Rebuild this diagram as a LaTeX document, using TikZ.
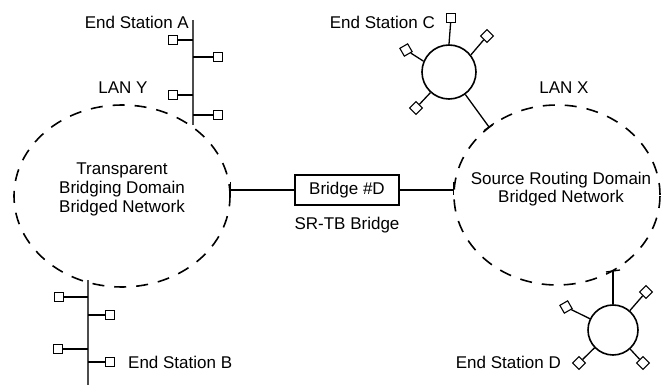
\documentclass[tikz,border=0pt]{standalone}
\usepackage{fontspec}
\setmainfont{Liberation Sans}
\usetikzlibrary{shapes.geometric,calc}
\begin{document}
\begin{tikzpicture}[x=1pt,y=-1pt,
  txt/.style={font=\fontsize{17}{19}\selectfont, inner sep=0pt, align=center},
  lanx/.style={ellipse, draw, line width=1.6pt, dash pattern=on 12pt off 10pt, inner sep=0pt},
  sta/.style={draw, rectangle, minimum size=9pt, inner sep=0pt, line width=1.1pt, fill=white},
  ring/.style={circle, draw, line width=1.6pt, inner sep=0pt},
  bus/.style={line width=2.4pt, black!70},
  wire/.style={line width=1.3pt},
  endtick/.style={line width=1.3pt}]
\useasboundingbox (0,0) rectangle (662,385);

% LAN ellipses
\node[lanx, minimum width=216pt, minimum height=182pt] (lanY) at (122,196) {};
\node[lanx, minimum width=206pt, minimum height=180pt] (lanX) at (557,195) {};
\node[txt] (lanYtxt) at (122,189) {Transparent\\Bridging Domain\\Bridged Network};
\node[txt, font=\fontsize{17}{18}\selectfont] (lanXtxt) at (561,189) {Source Routing Domain\\Bridged Network};
\node[txt] (lanYlbl) at (123,88) {LAN Y};
\node[txt] (lanXlbl) at (564,88) {LAN X};

% Bridge
\node[txt, draw, line width=1.3pt, minimum width=104pt, minimum height=30pt] (br) at (347,190) {Bridge \#D};
\node[txt] (brlbl) at (347,225) {SR-TB Bridge};
\coordinate (brL) at (br.west -| lanY.east);
\coordinate (brR) at (br.east -| lanX.west);
\draw[wire] (brL) -- (br.west);
\draw[wire] (br.east) -- (brR);
\draw[endtick] ($(brL)+(0,-8)$) -- ($(brL)+(0,5)$);
\draw[endtick] ($(brR)+(0,-8)$) -- ($(brR)+(0,5)$);

% Bus A (End Station A)
\coordinate (aTop) at (193,20);
\coordinate (aBot) at (193,125);
\draw[bus] (aTop) -- (aBot);
\node[sta] (sA1) at (173,40) {};
\node[sta] (sA2) at (218,57) {};
\node[sta] (sA3) at (173,95) {};
\node[sta] (sA4) at (218,115) {};
\foreach \s in {sA1,sA2,sA3,sA4} \draw[wire] (\s) -- (\s -| aTop);
\node[txt, anchor=east] (lblA) at (189,22) {End Station A};

% Bus B (End Station B)
\coordinate (bTop) at (88,280);
\coordinate (bBot) at (88,385);
\draw[bus] (bTop) -- (bBot);
\node[sta] (sB1) at (59,297) {};
\node[sta] (sB2) at (110,315) {};
\node[sta] (sB3) at (58,349) {};
\node[sta] (sB4) at (110,362) {};
\foreach \s in {sB1,sB2,sB3,sB4} \draw[wire] (\s) -- (\s -| bTop);
\node[txt, anchor=west] (lblB) at (128,362) {End Station B};

% Ring C (End Station C)
\node[ring, minimum size=54pt] (ringC) at (449,72) {};
\node[sta] (sC1) at (451,18) {};
\node[sta, rotate=45] (sC2) at (487,36) {};
\node[sta, rotate=30] (sC3) at (406,50) {};
\node[sta, rotate=45] (sC4) at (416,108) {};
\draw[wire] (ringC.north) -- (sC1);
\draw[wire] (ringC.38) -- (sC2);
\draw[wire] (ringC.157) -- (sC3);
\draw[wire] (ringC.228) -- (sC4);
\coordinate (cX) at (489,127);
\draw[wire] (ringC.-54) -- (cX);
\draw[endtick] ($(cX)!6pt!90:(ringC)$) -- ($(cX)!6pt!-90:(ringC)$);
\node[txt, anchor=east] (lblC) at (435,22) {End Station C};

% Ring D (End Station D)
\node[ring, minimum size=50pt] (ringD) at (613,330) {};
\node[sta, rotate=30] (sD1) at (566,307) {};
\node[sta, rotate=45] (sD2) at (646,292) {};
\node[sta, rotate=45] (sD3) at (579,363) {};
\node[sta, rotate=45] (sD4) at (643,363) {};
\draw[wire] (ringD.154) -- (sD1);
\draw[wire] (ringD.49) -- (sD2);
\draw[wire] (ringD.224) -- (sD3);
\draw[wire] (ringD.-48) -- (sD4);
\coordinate (dX) at (613,271);
\draw[wire] (ringD.north) -- (dX);
\draw[endtick] ($(dX)+(-7,1)$) -- ($(dX)+(7,-1)$);
\node[txt, anchor=east] (lblD) at (561,362) {End Station D};
\end{tikzpicture}
\end{document}
